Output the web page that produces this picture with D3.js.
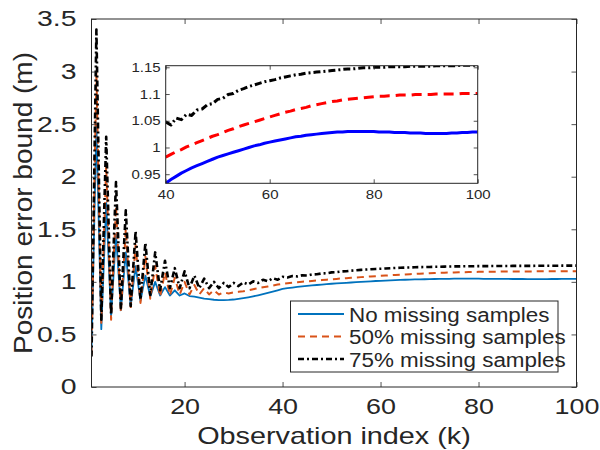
<!DOCTYPE html>
<html>
<head>
<meta charset="utf-8">
<script src="https://cdn.jsdelivr.net/npm/d3@7"></script>
<style>
  body { margin: 0; background: #fff; }
  text { font-family: "Liberation Sans", Arial, Helvetica, sans-serif; fill: #262626; }
</style>
</head>
<body>
<div id="chart"></div>
<script>
// observation index k = 1..100
let obsIndex = d3.range(1, 101);

let noMissing = [0.33,2.50,0.55,1.75,0.67,1.45,0.73,1.28,0.77,1.15,
  0.82,1.06,0.86,1.00,0.87,0.95,0.87,0.92,0.87,0.89,
  0.865,0.86,0.85,0.84,0.835,0.83,0.827,0.826,0.828,0.832,
  0.838,0.845,0.853,0.862,0.872,0.883,0.895,0.907,0.920,0.933,
  0.940,0.946,0.952,0.957,0.962,0.966,0.970,0.974,0.978,0.982,
  0.985,0.988,0.991,0.994,0.997,1.000,1.003,1.005,1.008,1.010,
  1.012,1.014,1.016,1.018,1.020,1.021,1.023,1.024,1.025,1.026,
  1.027,1.028,1.029,1.029,1.030,1.030,1.030,1.030,1.030,1.030,
  1.029,1.029,1.029,1.028,1.028,1.028,1.027,1.027,1.027,1.026,
  1.026,1.026,1.026,1.026,1.027,1.027,1.028,1.028,1.029,1.029];

let missing50 = [0.31,3.00,0.61,2.10,0.64,1.72,0.71,1.50,0.76,1.35,
  0.80,1.24,0.84,1.15,0.86,1.09,0.87,1.04,0.88,1.00,
  0.88,0.97,0.88,0.94,0.88,0.92,0.88,0.90,0.89,0.90,
  0.905,0.91,0.92,0.93,0.94,0.948,0.956,0.965,0.974,0.982,
  0.987,0.992,0.996,1.001,1.005,1.009,1.013,1.017,1.021,1.024,
  1.028,1.032,1.035,1.039,1.042,1.045,1.048,1.051,1.054,1.057,
  1.060,1.063,1.066,1.068,1.071,1.073,1.075,1.078,1.080,1.082,
  1.084,1.086,1.087,1.089,1.090,1.091,1.092,1.093,1.094,1.095,
  1.096,1.096,1.097,1.097,1.098,1.098,1.098,1.099,1.099,1.099,
  1.099,1.100,1.100,1.100,1.100,1.100,1.101,1.101,1.101,1.101];

let missing75 = [0.29,3.40,0.64,2.38,0.685,1.95,0.75,1.68,0.77,1.48,
  0.83,1.37,0.875,1.28,0.92,1.20,0.94,1.13,0.94,1.10,
  0.94,1.06,0.94,1.03,0.94,1.00,0.94,0.99,0.95,0.99,
  0.96,0.995,0.975,1.005,0.99,1.02,1.005,1.035,1.02,1.048,
  1.042,1.055,1.052,1.062,1.060,1.070,1.072,1.080,1.082,1.090,
  1.092,1.099,1.101,1.107,1.110,1.114,1.117,1.120,1.123,1.125,
  1.127,1.130,1.132,1.134,1.136,1.137,1.139,1.140,1.141,1.142,
  1.143,1.144,1.145,1.146,1.147,1.147,1.148,1.149,1.149,1.150,
  1.150,1.150,1.151,1.151,1.151,1.151,1.152,1.152,1.152,1.152,
  1.152,1.153,1.153,1.153,1.153,1.153,1.154,1.154,1.154,1.154];

let seriesNames = ['No missing samples', '50% missing samples', '75% missing samples'];
let xTicks = [20, 40, 60, 80, 100];
let yTicks = [0, 0.5, 1, 1.5, 2, 2.5, 3, 3.5];
let insetXTicks = [40, 60, 80, 100];
let insetYTicks = [0.95, 1, 1.05, 1.1, 1.15];

let width = 600, height = 450;
let axisColor = '#262626';

let svg = d3.select('#chart')
        .append('svg')
        .attr('width', width)
        .attr('height', height);

svg.append('rect').attr('width', width).attr('height', height).attr('fill', '#fff');

// the figure text is rendered wide, so glyphs get stretched to match
let stretch = function(sel, f) {
  sel.each(function() {
    let len = this.getComputedTextLength();
    d3.select(this).attr('textLength', len * f).attr('lengthAdjust', 'spacingAndGlyphs');
  });
};

let series = [
  {name: seriesNames[0], values: noMissing, main: '#0072BD', inset: '#0000FF', dash: null, insetDash: null, w: 1.8},
  {name: seriesNames[1], values: missing50, main: '#D95319', inset: '#FF0000', dash: '7,5', insetDash: '10,6', w: 2},
  {name: seriesNames[2], values: missing75, main: '#000000', inset: '#000000', dash: '6,3,2,3', insetDash: '7,3,2,3', w: 2.6}
];

let x = d3.scaleLinear().domain([1, 100]).range([91.5, 576.5]);
let y = d3.scaleLinear().domain([0, 3.5]).range([387, 19]);

let plot = svg.append('g').attr('class', 'main');

plot.append('clipPath').attr('id', 'clipMain')
  .append('rect').attr('x', x.range()[0]).attr('y', y.range()[1])
  .attr('width', x.range()[1] - x.range()[0]).attr('height', y.range()[0] - y.range()[1]);

let line = d3.line()
        .x(function(d) { return x(d.k); })
        .y(function(d) { return y(d.v); });

let lines = plot.append('g').attr('clip-path', 'url(#clipMain)');
series.forEach(function(s) {
  let pts = obsIndex.map(function(k, i) { return {k: k, v: s.values[i]}; });
  lines.append('path')
    .datum(pts)
    .attr('d', line)
    .attr('fill', 'none')
    .attr('stroke', s.main)
    .attr('stroke-width', s.w)
    .attr('stroke-linejoin', 'round')
    .attr('stroke-dasharray', s.dash);
});

// axes, ticks pointing inward on all four sides
let xAxis_g = plot.append('g')
        .attr('transform', 'translate(0,' + y.range()[0] + ')')
        .call(d3.axisBottom(x).tickValues(xTicks).tickSizeInner(-5).tickSizeOuter(0).tickPadding(12));
let yAxis_g = plot.append('g')
        .attr('transform', 'translate(' + x.range()[0] + ',0)')
        .call(d3.axisLeft(y).tickValues(yTicks).tickFormat(function(d) { return d; })
          .tickSizeInner(-5).tickSizeOuter(0).tickPadding(15));
plot.append('g')
  .attr('transform', 'translate(0,' + y.range()[1] + ')')
  .call(d3.axisTop(x).tickValues(xTicks).tickSizeInner(-5).tickSizeOuter(0).tickFormat(''));
plot.append('g')
  .attr('transform', 'translate(' + x.range()[1] + ',0)')
  .call(d3.axisRight(y).tickValues(yTicks).tickSizeInner(-5).tickSizeOuter(0).tickFormat(''));

plot.selectAll('.domain').remove();
plot.selectAll('.tick line').attr('stroke', axisColor).attr('stroke-width', 0.8);
plot.selectAll('.tick text').attr('font-size', 21.5).attr('fill', axisColor)
  .attr('font-family', '"Liberation Sans", Arial, sans-serif');
stretch(xAxis_g.selectAll('.tick text'), 1.25);
stretch(yAxis_g.selectAll('.tick text'), 1.32);

plot.append('rect')
  .attr('x', x.range()[0]).attr('y', y.range()[1])
  .attr('width', x.range()[1] - x.range()[0]).attr('height', y.range()[0] - y.range()[1])
  .attr('fill', 'none').attr('stroke', axisColor).attr('stroke-width', 1);

let xLabel = svg.append('text')
        .attr('x', 334).attr('y', 444)
        .attr('text-anchor', 'middle')
        .attr('font-size', 24)
        .text('Observation index (k)');
stretch(xLabel, 1.2);

let yLabel = svg.append('text')
        .attr('transform', 'translate(32,203) rotate(-90)')
        .attr('text-anchor', 'middle')
        .attr('font-size', 25)
        .text('Position error bound (m)');
stretch(yLabel, 1.12);

// inset zoom on k = 40..100
let ix = d3.scaleLinear().domain([40, 100]).range([165.7, 477.7]);
let iy = d3.scaleLinear().domain([0.933, 1.153]).range([183.3, 65.7]);

let inset = svg.append('g').attr('class', 'inset');
inset.append('rect')
  .attr('x', ix.range()[0]).attr('y', iy.range()[1])
  .attr('width', ix.range()[1] - ix.range()[0]).attr('height', iy.range()[0] - iy.range()[1])
  .attr('fill', '#fff');

inset.append('clipPath').attr('id', 'clipInset')
  .append('rect').attr('x', ix.range()[0]).attr('y', iy.range()[1])
  .attr('width', ix.range()[1] - ix.range()[0]).attr('height', iy.range()[0] - iy.range()[1]);

let insetLine = d3.line()
        .x(function(d) { return ix(d.k); })
        .y(function(d) { return iy(d.v); });

let insetLines = inset.append('g').attr('clip-path', 'url(#clipInset)');
series.forEach(function(s) {
  let pts = obsIndex.map(function(k, i) { return {k: k, v: s.values[i]}; })
    .filter(function(d) { return d.k >= 40; });
  insetLines.append('path')
    .datum(pts)
    .attr('d', insetLine)
    .attr('fill', 'none')
    .attr('stroke', s.inset)
    .attr('stroke-width', 3)
    .attr('stroke-linejoin', 'round')
    .attr('stroke-dasharray', s.insetDash);
});

let ixAxis_g = inset.append('g')
        .attr('transform', 'translate(0,' + iy.range()[0] + ')')
        .call(d3.axisBottom(ix).tickValues(insetXTicks).tickSizeInner(-4).tickSizeOuter(0).tickPadding(7));
let iyAxis_g = inset.append('g')
        .attr('transform', 'translate(' + ix.range()[0] + ',0)')
        .call(d3.axisLeft(iy).tickValues(insetYTicks).tickFormat(function(d) { return d; })
          .tickSizeInner(-4).tickSizeOuter(0).tickPadding(5));
inset.append('g')
  .attr('transform', 'translate(0,' + iy.range()[1] + ')')
  .call(d3.axisTop(ix).tickValues(insetXTicks).tickSizeInner(-4).tickSizeOuter(0).tickFormat(''));
inset.append('g')
  .attr('transform', 'translate(' + ix.range()[1] + ',0)')
  .call(d3.axisRight(iy).tickValues(insetYTicks).tickSizeInner(-4).tickSizeOuter(0).tickFormat(''));

inset.selectAll('.domain').remove();
inset.selectAll('.tick line').attr('stroke', axisColor).attr('stroke-width', 0.8);
inset.selectAll('.tick text').attr('font-size', 12.5).attr('fill', axisColor)
  .attr('font-family', '"Liberation Sans", Arial, sans-serif');
stretch(ixAxis_g.selectAll('.tick text'), 1.2);
stretch(iyAxis_g.selectAll('.tick text'), 1.2);

inset.append('rect')
  .attr('x', ix.range()[0]).attr('y', iy.range()[1])
  .attr('width', ix.range()[1] - ix.range()[0]).attr('height', iy.range()[0] - iy.range()[1])
  .attr('fill', 'none').attr('stroke', axisColor).attr('stroke-width', 1);

// legend
let legend = svg.append('g').attr('class', 'legend');
legend.append('rect')
  .attr('x', 290.5).attr('y', 301).attr('width', 267.5).attr('height', 71)
  .attr('fill', '#fff').attr('stroke', axisColor).attr('stroke-width', 1);

let rowY = d3.scalePoint().domain(seriesNames).range([314, 359]);

let row = legend.selectAll('.row')
        .data(series)
        .enter().append('g')
        .attr('class', 'row')
        .attr('transform', function(d) { return 'translate(0,' + rowY(d.name) + ')'; });

row.append('line')
  .attr('x1', 298).attr('x2', 344).attr('y1', 0).attr('y2', 0)
  .attr('stroke', function(d) { return d.main; })
  .attr('stroke-width', function(d) { return d.w; })
  .attr('stroke-dasharray', function(d) { return d.dash; });

let legendText = row.append('text')
        .attr('x', 349).attr('y', 7.5)
        .attr('font-size', 20)
        .text(function(d) { return d.name; });
stretch(legendText, 1.12);
</script>
</body>
</html>
